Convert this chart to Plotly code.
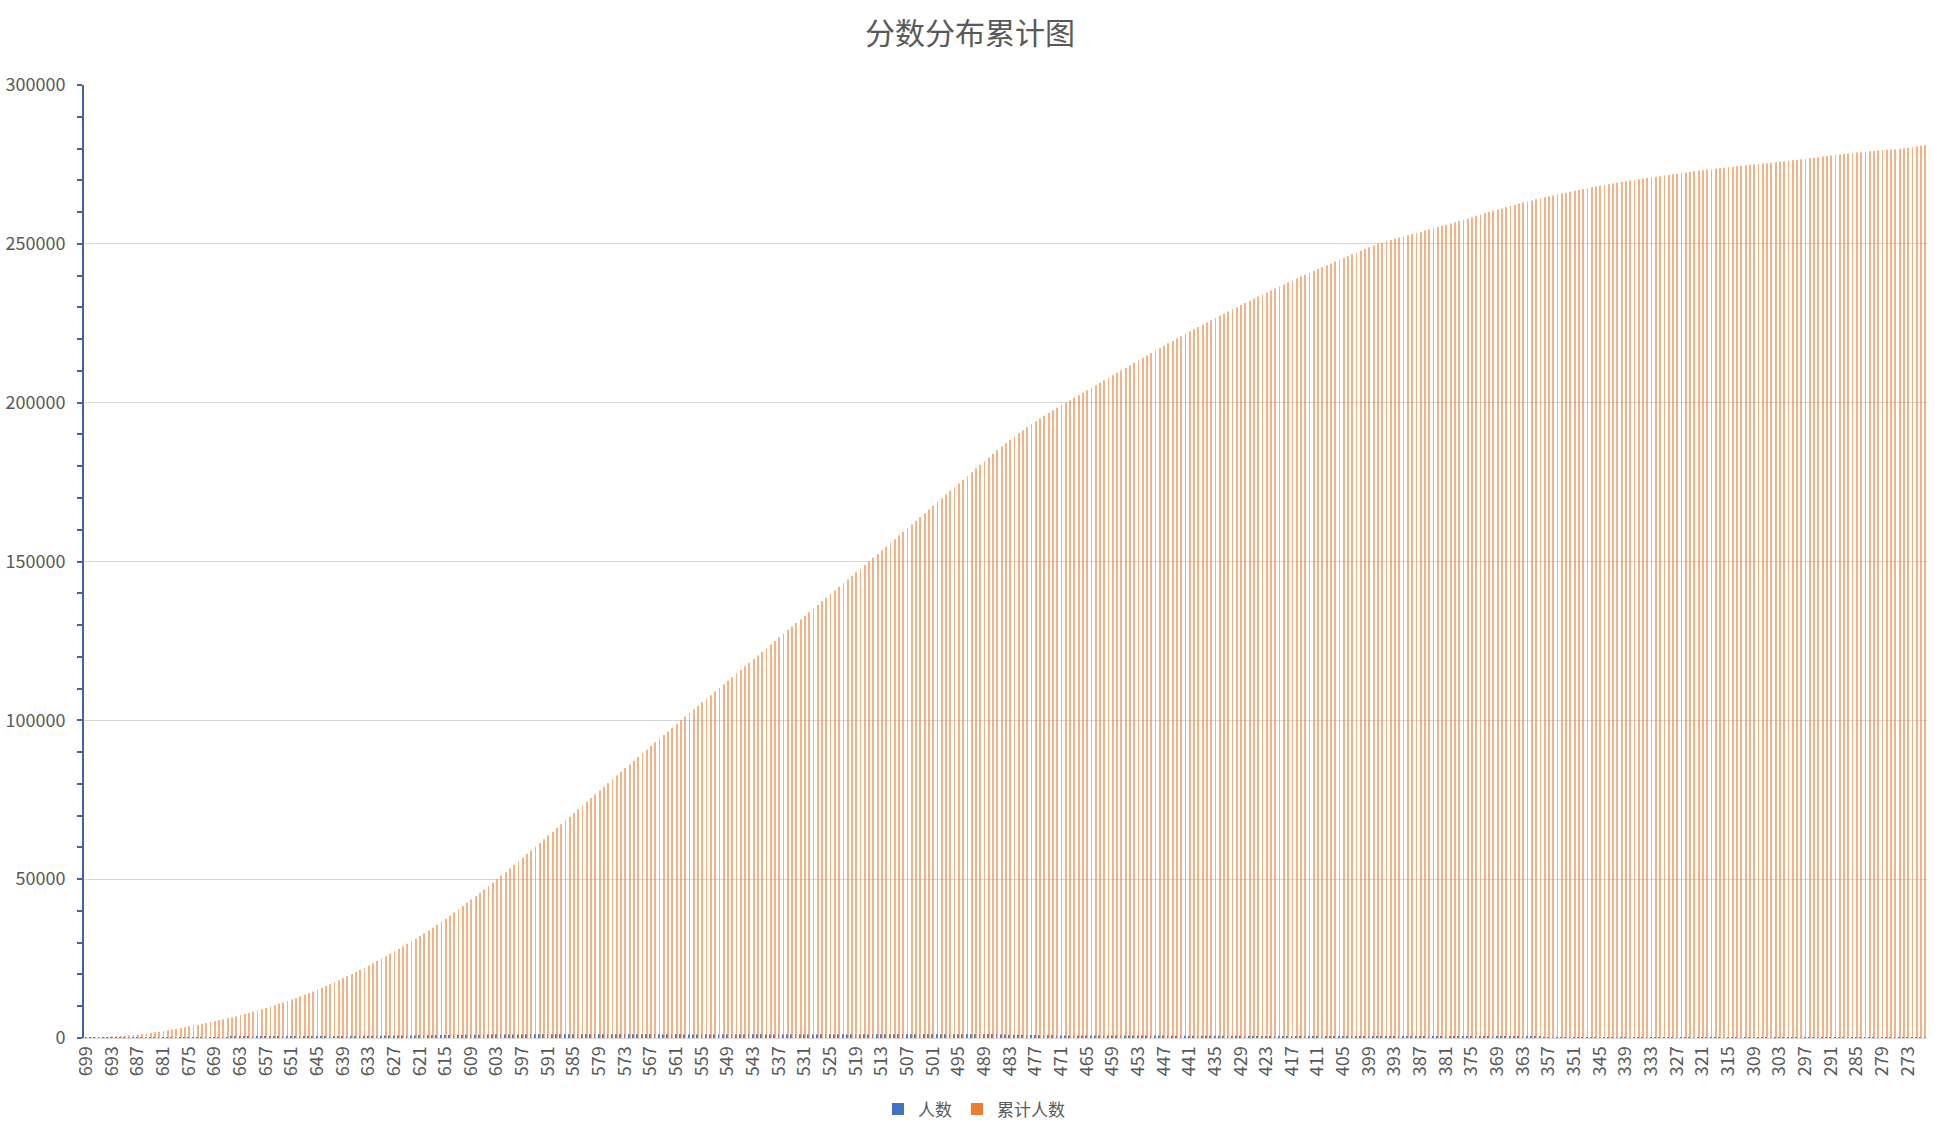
import plotly.graph_objs as go

# scores from 699 down to 269 (one category per score)
scores = list(range(699, 268, -1))

# 人数: number of people at each score (699 -> 269)
counts = [
    20, 30, 40, 50, 65, 80, 95, 120,
    110, 120, 125, 135, 140, 150, 160, 170,
    185, 195, 210, 220, 230, 245, 255,
    250, 262, 258, 270, 280, 275, 290, 300,
    295, 305, 300, 318, 330, 326, 340, 352,
    372, 385, 398, 405, 418, 430, 438, 455,
    455, 470, 485, 498, 510, 522, 535, 548,
    560, 575, 588, 600, 612, 625, 640, 652,
    665, 680, 692, 705, 718, 730, 742,
    752, 760, 770, 775, 780, 790, 795, 805,
    840, 860, 880, 900, 915, 935, 955, 980,
    995, 1010, 1020, 1030, 1040, 1045, 1050, 1060, 1070, 1080, 1095,
    1105, 1115, 1120, 1130, 1135, 1140, 1150, 1155, 1160, 1165,
    1170, 1175, 1180, 1178, 1185, 1190, 1188, 1192, 1185, 1190,
    1185, 1180, 1188, 1175, 1182, 1170, 1178, 1172, 1165, 1170,
    1160, 1168, 1155, 1162, 1150, 1158, 1145, 1152, 1140, 1148,
    1160, 1165, 1168,
    1140, 1135, 1130, 1138, 1125, 1132, 1128, 1120, 1126, 1130,
    1135, 1142, 1138, 1145, 1140, 1148, 1142, 1150, 1145, 1140,
    1138, 1132, 1140, 1128, 1135, 1130, 1126, 1134, 1128, 1122,
    1130, 1138, 1142, 1135, 1145, 1140, 1148, 1142, 1136, 1144, 1140, 1138, 1142, 1138,
    1150, 1158, 1162, 1165, 1170, 1168, 1175, 1172, 1178, 1170,
    1175, 1168, 1180, 1172, 1178, 1170, 1182, 1175, 1168, 1176,
    1172, 1165, 1178, 1170, 1168, 1175, 1162, 1166, 1162,
    1130, 1105, 1085, 1060, 1035, 1010, 985, 960, 935, 910, 888, 880, 858, 842, 818, 800, 769,
    770, 775, 780, 785, 778, 790, 782, 786,
    788, 795, 790, 800, 785, 792, 780, 788,
    775, 770, 765, 772, 760, 768, 755, 762,
    745, 740, 736, 731, 727, 722, 718, 713, 709, 704,
    700, 695, 691, 686, 682, 677, 673, 668, 664, 659,
    655, 650, 646, 641, 637, 632, 628, 623, 619, 614,
    610, 605, 601, 596, 592, 587, 583, 578, 574,
    575, 577, 576, 574, 572, 570, 569,
    540, 505, 470, 440, 415, 400, 390, 380,
    375, 372, 370, 372, 368, 370, 368, 366,
    370, 375, 380, 385, 390, 392, 395, 398,
    405, 400, 398, 395, 392, 390, 385, 380,
    372, 368, 365, 362, 360, 355, 350,
    330, 318, 310, 305, 300, 295, 290, 285,
    285, 282, 278, 275, 272, 270, 265, 262,
    250, 242, 235, 228, 222, 215, 208, 200,
    205, 202, 200, 198, 200, 197, 200, 198,
    192, 190, 188, 185, 183, 182, 180,
    172, 168, 165, 162, 160, 158, 158, 157,
    150, 145, 140, 138, 135, 132, 130, 130,
    140, 145, 148, 150, 152, 155, 153, 157,
    165, 170, 175, 178, 180, 176, 178, 178,
    160, 150, 145, 140, 138, 135, 132,
    125, 120, 115, 112, 110, 108, 105, 105,
    170, 185, 195, 205, 215, 230,
]

# 累计人数: running total of 人数
cumulative = []
total = 0
for c in counts:
    total += c
    cumulative.append(total)

tick_labels = [699, 693, 687, 681, 675, 669, 663, 657, 651, 645, 639, 633,
               627, 621, 615, 609, 603, 597, 591, 585, 579, 573, 567, 561,
               555, 549, 543, 537, 531, 525, 519, 513, 507, 501, 495, 489,
               483, 477, 471, 465, 459, 453, 447, 441, 435, 429, 423, 417,
               411, 405, 399, 393, 387, 381, 375, 369, 363, 357, 351, 345,
               339, 333, 327, 321, 315, 309, 303, 297, 291, 285, 279, 273]

x = [str(s) for s in scores]
font = "Noto Sans CJK SC"
grey = "#595959"
axis_blue = "#3F63A6"

renshu = go.Bar(x=x, y=counts, name="人数", marker={"color": "#4472C4", "line": {"width": 0}})
leiji = go.Bar(x=x, y=cumulative, name="累计人数",
               marker={"color": "#ED7D31", "opacity": 0.6, "line": {"width": 0}})

layout = go.Layout(
    width=1948, height=1132,
    margin=dict(l=84, r=21, t=85, b=94, autoexpand=False),
    paper_bgcolor="white", plot_bgcolor="white",
    font=dict(family=font, color=grey),
    title=dict(text="分数分布累计图", x=0.498, xref="container", xanchor="center",
               y=0.97, yref="container", yanchor="middle",
               font=dict(family=font, size=30, color=grey)),
    barmode="group", bargap=0.62, bargroupgap=0,
    xaxis=dict(type="category", tickmode="array", automargin=False,
               tickvals=[str(t) for t in tick_labels],
               ticktext=[str(t) for t in tick_labels],
               tickangle=-90, tickfont=dict(size=18, color=grey),
               showline=True, linecolor="#D9D9D9", linewidth=1,
               ticks="", showgrid=False, zeroline=False),
    yaxis=dict(range=[0, 300000], dtick=50000, tickformat="d", automargin=False,
               showgrid=True, gridcolor="#D9D9D9", gridwidth=1,
               zeroline=False, showline=True, linecolor=axis_blue, linewidth=2,
               ticks="outside", ticklen=5, tickwidth=2, tickcolor=axis_blue,
               minor=dict(dtick=10000, ticks="outside", ticklen=5,
                          tickwidth=2, tickcolor=axis_blue, showgrid=False),
               tickfont=dict(size=18, color=grey), ticklabelstandoff=8),
    yaxis2=dict(range=[0, 300000], dtick=50000, overlaying="y", side="left",
                anchor="x", showgrid=False, zeroline=False, showline=False,
                showticklabels=False, automargin=False,
                ticks="inside", ticklen=5, tickwidth=2, tickcolor=axis_blue,
                minor=dict(dtick=10000, ticks="inside", ticklen=5,
                           tickwidth=2, tickcolor=axis_blue, showgrid=False)),
    showlegend=True,
    legend=dict(orientation="h", x=0.5, xref="container", xanchor="center",
                y=0.02, yref="container", yanchor="middle",
                font=dict(size=17, color=grey), bgcolor="rgba(0,0,0,0)"),
)

fig = go.Figure(data=[renshu, leiji], layout=layout)
fig.write_html("out.html", config={"displayModeBar": False},
               post_script="document.body.style.margin='0';")
